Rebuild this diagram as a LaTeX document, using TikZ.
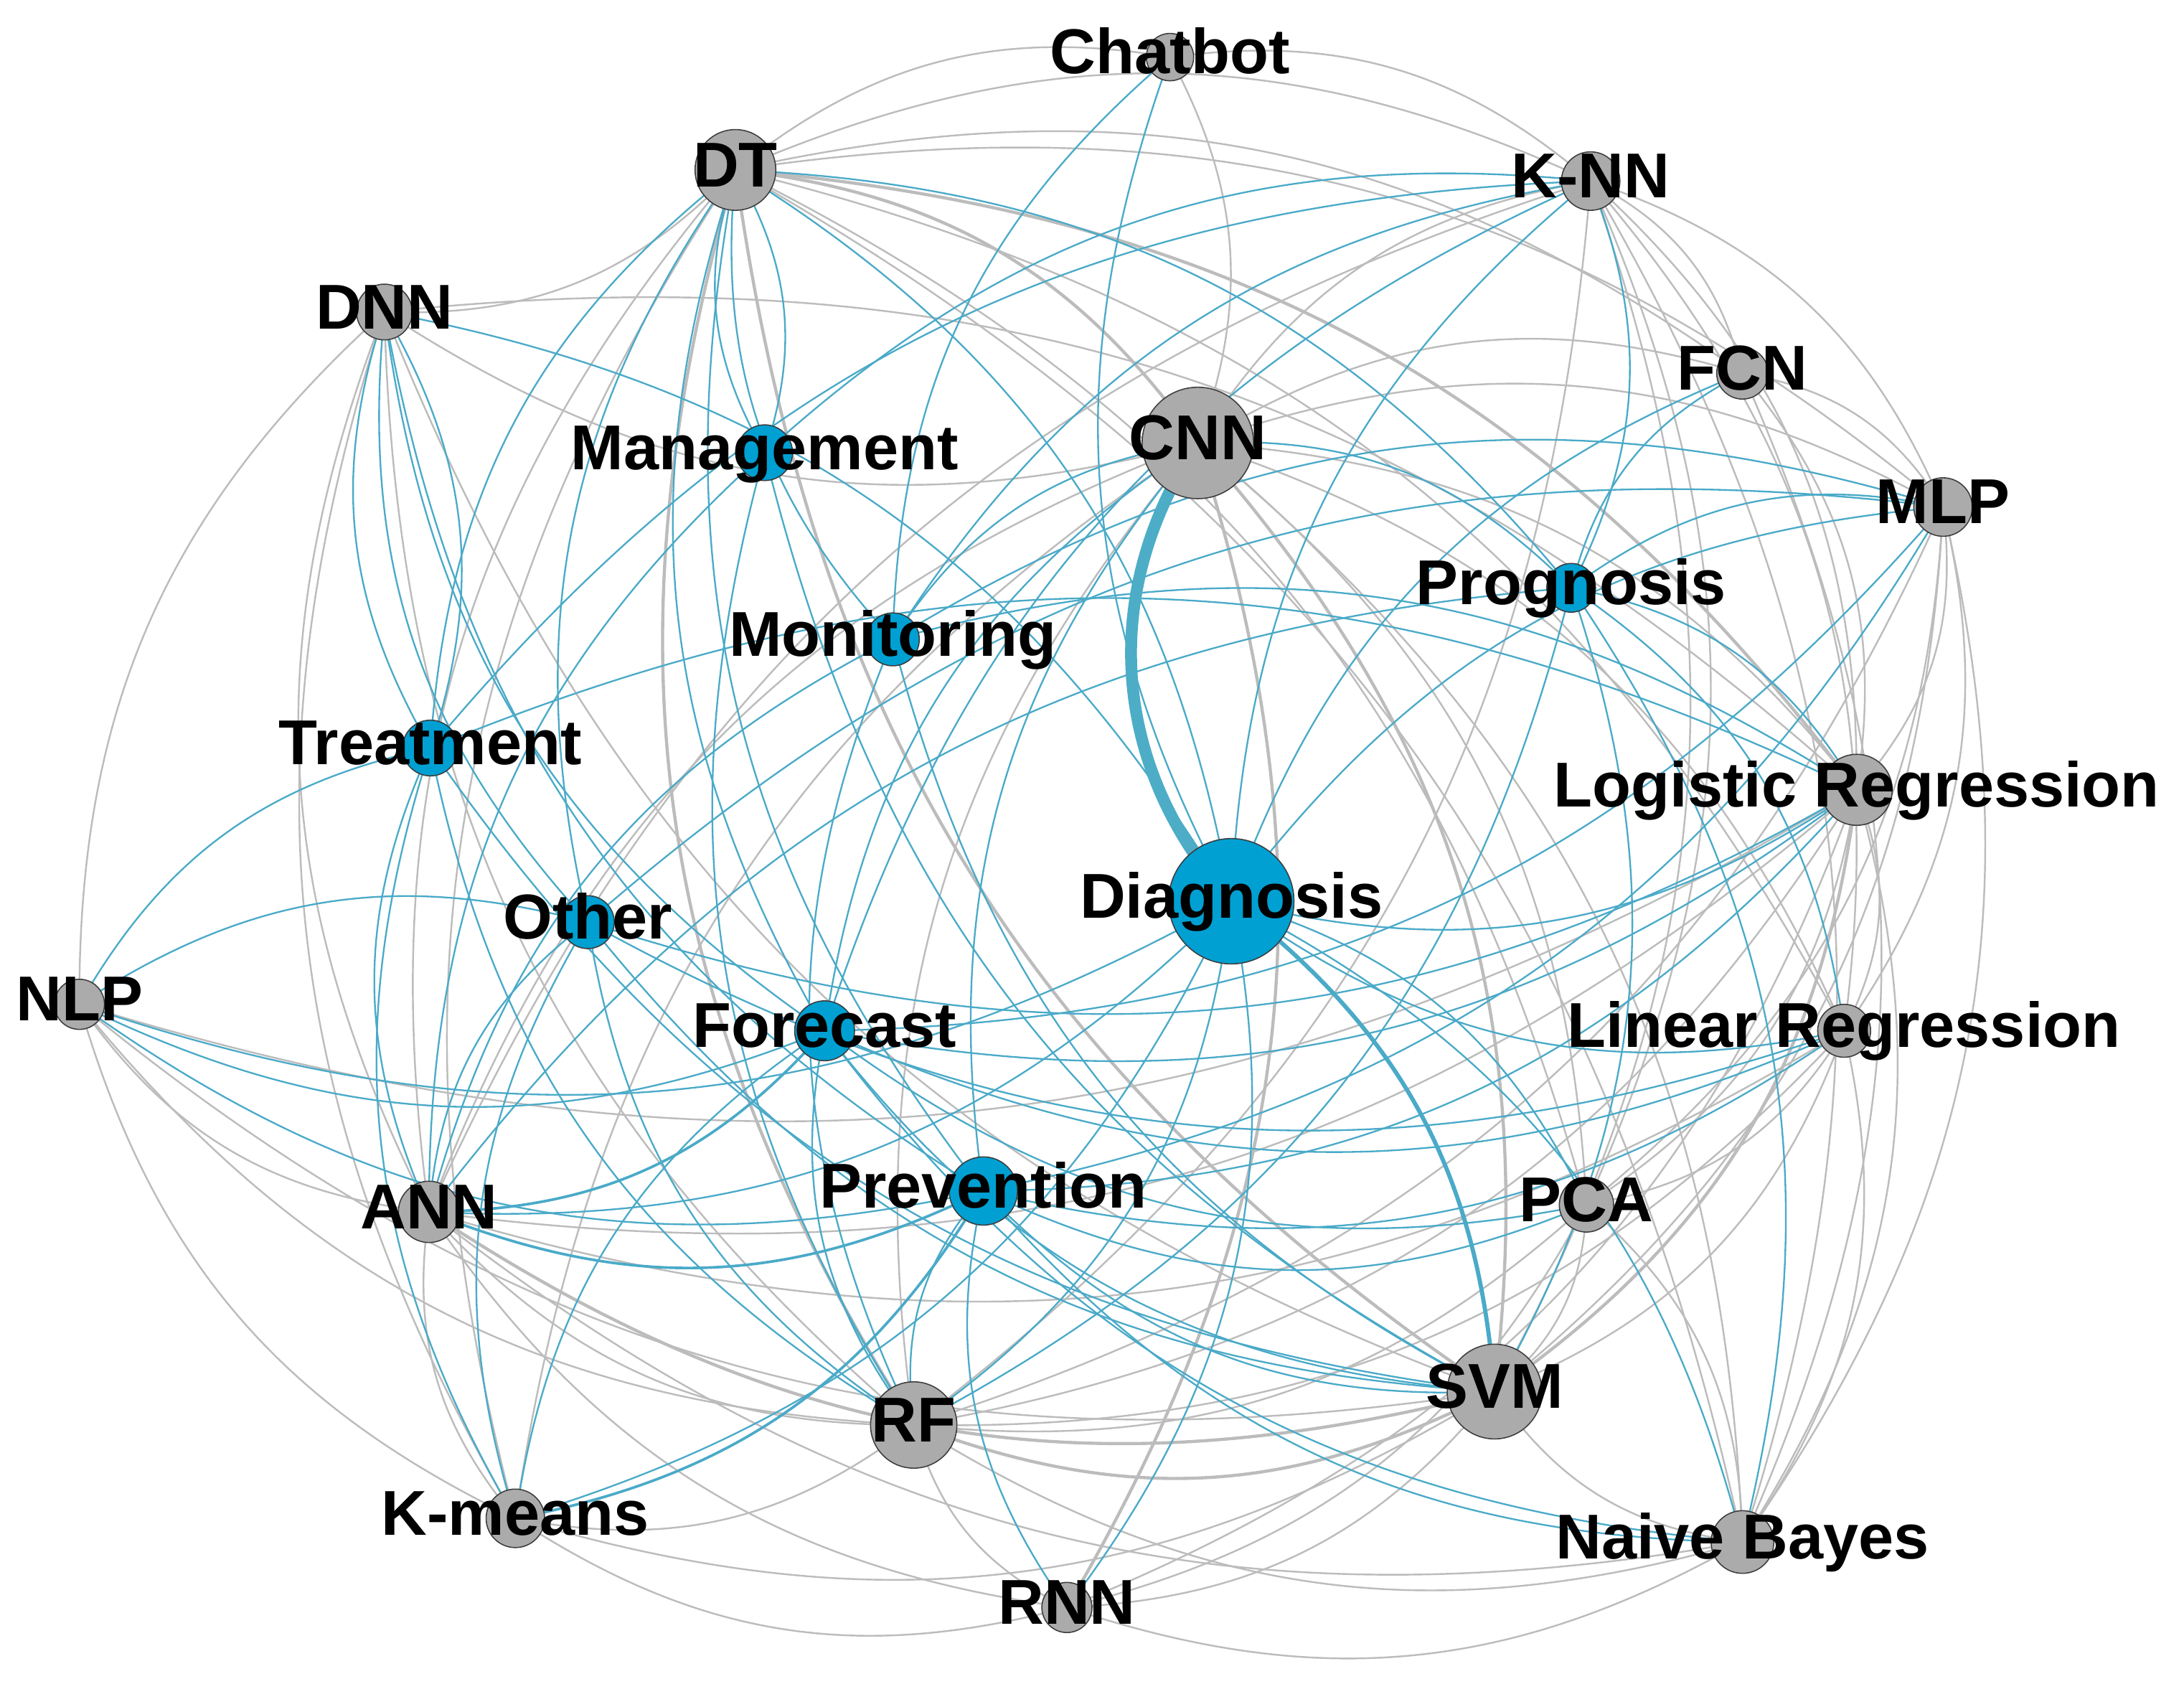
\documentclass[tikz,border=0pt]{standalone}
\usepackage{fontspec}
\setmainfont{Liberation Sans}
\usetikzlibrary{calc}
\pgfdeclarelayer{edges}
\pgfsetlayers{edges,main}
\definecolor{ngray}{RGB}{171,171,171}
\definecolor{nblue}{RGB}{0,160,210}
\definecolor{egray}{RGB}{188,188,188}
\definecolor{eblue}{RGB}{74,170,200}
\definecolor{ethick}{RGB}{77,173,198}
\definecolor{nborder}{RGB}{60,60,60}
\tikzset{
 gn/.style={circle, draw=nborder, line width=0.32pt, fill=ngray, minimum size=#1, inner sep=0pt},
 bn/.style={circle, draw=nborder, line width=0.32pt, fill=nblue, minimum size=#1, inner sep=0pt},
 lab/.style={font=\fontsize{18.2}{20}\selectfont\bfseries, inner sep=0pt, anchor=base},
 ge/.style={draw=egray, line width=0.5pt},
 gm/.style={draw=egray, line width=0.9pt},
 be/.style={draw=eblue, line width=0.48pt},
 bm/.style={draw=eblue, line width=0.76pt},
 bthick/.style={draw=ethick, line width=3.4pt},
}
\def\gcx{312}\def\gcy{-248}\def\bang{24}
% edge bulging outward from the picture centre
\newcommand\edg[3][ge]{%
  \path let \p1=(#2.center), \p2=(#3.center) in
   \pgfextra{\pgfmathparse{((\y2-\y1)/100)*(((\x1+\x2)/2-\gcx)/100)-((\x2-\x1)/100)*(((\y1+\y2)/2-\gcy)/100)}%
   \global\let\edgesgn\pgfmathresult};
  \ifdim\edgesgn pt>0pt
    \draw[#1] (#2.center) to[bend right=\bang] (#3.center);
  \else
    \draw[#1] (#2.center) to[bend left=\bang] (#3.center);
  \fi}
% edge bulging to the right of travel from #2 to #3
\newcommand\edr[3][ge]{\draw[#1] (#2.center) to[bend right=\bang] (#3.center);}
\begin{document}
\begin{tikzpicture}[x=0.4pt,y=0.4pt]
\useasboundingbox (0,0) rectangle (1568,-1225);
% nodes
\node[gn=13.6pt] (chat) at (840,-41) {};
\node[gn=23.2pt] (dt) at (528,-122) {};
\node[gn=16.8pt] (knn) at (1142,-130) {};
\node[gn=16pt] (dnn) at (276,-224) {};
\node[gn=14.8pt] (fcn) at (1251,-268) {};
\node[gn=32pt] (cnn) at (860,-318) {};
\node[bn=16pt] (mgmt) at (549,-325) {};
\node[gn=16.8pt] (mlp) at (1395,-364) {};
\node[bn=14pt] (prog) at (1128,-422) {};
\node[bn=15.2pt] (moni) at (641,-459) {};
\node[bn=16pt] (treat) at (309,-537) {};
\node[gn=20.4pt] (logr) at (1333,-567) {};
\node[bn=36pt] (diag) at (884,-647) {};
\node[bn=15.2pt] (other) at (422,-662) {};
\node[gn=14.4pt] (nlp) at (57,-721) {};
\node[bn=17.2pt] (fore) at (592,-740) {};
\node[gn=15.2pt] (linr) at (1324,-740) {};
\node[gn=17.6pt] (ann) at (308,-870) {};
\node[bn=19.6pt] (prev) at (706,-855) {};
\node[gn=15.6pt] (pca) at (1139,-865) {};
\node[gn=27.2pt] (svm) at (1073,-999) {};
\node[gn=24.8pt] (rf) at (656,-1023) {};
\node[gn=16.8pt] (kmeans) at (370,-1090) {};
\node[gn=18pt] (nb) at (1251,-1107) {};
\node[gn=14.4pt] (rnn) at (766,-1154) {};
\begin{pgfonlayer}{edges}
% grey edges between methods
\edr{chat}{dt} \edg{chat}{cnn} \edg{chat}{knn}
\edr{dnn}{dt} \edg{dt}{knn} \edg{dt}{fcn} \edg[gm]{dt}{cnn} \edg{dt}{mlp}
\edg[gm]{dt}{logr} \edr[gm]{dt}{svm} \edg[gm]{dt}{rf} \edg{dt}{ann}
\edg{dt}{kmeans} \edg{dt}{nb} \edg{dt}{pca} \edg{dt}{linr}
\edg{dnn}{nlp} \edg{dnn}{ann} \edg{dnn}{kmeans} \edg{dnn}{rf} \edr{dnn}{cnn}
\edg{dnn}{svm} \edg{dnn}{logr}
\edg{knn}{mlp} \edg{knn}{fcn} \edg{knn}{svm} \edg{knn}{rf} \edg{knn}{logr}
\edg{knn}{nb} \edg{knn}{linr} \edg{knn}{pca} \edg{knn}{ann} \edg{knn}{cnn}
\edg{fcn}{cnn} \edg{fcn}{mlp} \edg{fcn}{nb} \edg{fcn}{logr}
\edg{cnn}{mlp} \edg[gm]{cnn}{svm} \edg{cnn}{rf} \edg{cnn}{ann} \edg{cnn}{logr}
\edg[gm]{cnn}{rnn} \edg{cnn}{pca} \edg{cnn}{nb} \edg{cnn}{linr} \edg{cnn}{kmeans}
\edg{mlp}{logr} \edg{mlp}{linr} \edg{mlp}{nb} \edg{mlp}{pca} \edg{mlp}{svm} \edg{mlp}{rf}
\edg{logr}{linr} \edg{logr}{nb} \edg{logr}{pca} \edg[gm]{logr}{svm} \edg{logr}{rf}
\edg{logr}{ann} \edg{logr}{nlp}
\edg{linr}{nb} \edg{linr}{pca} \edg{linr}{svm} \edg{linr}{rf} \edg{linr}{ann}
\edg{pca}{svm} \edg{pca}{nb} \edg{pca}{rf}
\edg[gm]{svm}{rf} \edg[gm]{svm}{ann} \edg{svm}{kmeans} \edg{svm}{rnn} \edg{svm}{nb} \edg{svm}{nlp}
\edg{rf}{ann} \edg{rf}{kmeans} \edg{rf}{rnn} \edg{rf}{nb} \edg{rf}{nlp}
\edg{ann}{nlp} \edg{ann}{kmeans} \edg{ann}{nb} \edg{ann}{rnn}
\edg{nlp}{kmeans} \edg{kmeans}{rnn} \edg{rnn}{nb} \edg{rnn}{pca} \edg{rnn}{logr}
% blue edges: applications
\edg[be]{dt}{diag} \edr[be]{knn}{diag} \edr[be]{fcn}{diag} \edr[be]{mlp}{diag}
\edg[be]{logr}{diag} \edg[be]{linr}{diag} \edg[be]{diag}{rf} \edg[be]{ann}{diag}
\edg[be]{nlp}{diag} \edg[be]{diag}{nb} \edg[be]{diag}{pca} \edr[be]{rnn}{diag}
\edg[be]{kmeans}{diag} \edg[be]{dnn}{diag} \edr[be]{chat}{diag}
\edr[be]{fcn}{prog} \edg[be]{mlp}{prog} \edg[be]{prog}{svm} \edg[be]{prog}{rf}
\edg[be]{ann}{prog} \edg[be]{dt}{prog} \edg[be]{prog}{logr} \edg[be]{prog}{linr}
\edg[be]{prog}{nb} \edg[be]{cnn}{prog} \edg[be]{knn}{prog}
\edg[be]{dt}{moni} \edg[be]{chat}{moni} \edg[be]{knn}{moni} \edg[be]{moni}{svm}
\edg[be]{moni}{rf} \edg[be]{moni}{ann} \edg[be]{moni}{logr} \edg[be]{mlp}{moni}
\edg[be]{moni}{cnn}
\edg[be]{dt}{mgmt} \edr[be]{mgmt}{dt} \edg[be]{knn}{mgmt}
\edg[be]{mgmt}{rf} \edg[be]{mgmt}{ann} \edg[be]{mgmt}{svm}
\edg[be]{dnn}{treat} \edr[be]{treat}{dnn} \edg[be]{dt}{treat} \edr[be]{treat}{nlp}
\edg[be]{knn}{treat} \edg[be]{treat}{rf} \edg[be]{treat}{svm} \edg[be]{treat}{kmeans}
\edg[be]{treat}{logr} \edg[be]{treat}{ann}
\edg[be]{dt}{other} \edg[be]{dnn}{other} \edg[be]{nlp}{other} \edg[be]{other}{ann}
\edg[be]{other}{rf} \edg[be]{other}{svm} \edg[be]{other}{kmeans} \edg[be]{other}{logr}
\edg[be]{other}{linr} \edg[be]{other}{mlp}
\edg[be]{dt}{fore} \edg[be]{dnn}{fore} \edg[be]{nlp}{fore} \edg[bm]{ann}{fore}
\edg[be]{fore}{rf} \edg[be]{fore}{svm} \edg[be]{fore}{logr} \edg[be]{fore}{linr}
\edg[be]{fore}{mlp} \edg[be]{cnn}{fore} \edg[be]{kmeans}{fore} \edg[be]{fore}{nb}
\edg[be]{fore}{pca} \edg[be]{knn}{fore}
\edg[be]{dt}{prev} \edg[be]{dnn}{prev} \edg[be]{nlp}{prev} \edg[bm]{ann}{prev}
\edg[be]{prev}{rf} \edg[be]{prev}{svm} \edg[be]{prev}{logr} \edg[be]{prev}{linr}
\edg[be]{prev}{mlp} \edg[be]{cnn}{prev} \edg[bm]{kmeans}{prev} \edg[be]{prev}{nb}
\edg[be]{prev}{rnn} \edg[be]{prev}{pca}
\edr[be,line width=1.2pt]{svm}{diag}
\draw[bthick] (cnn.center) to[bend right=38] (diag.center);
\end{pgfonlayer}
% labels
\node[lab] (chatL) at (840,-53) {Chatbot};
\node[lab] (dtL) at (528,-134) {DT};
\node[lab] (knnL) at (1142,-142) {K-NN};
\node[lab] (dnnL) at (276,-236) {DNN};
\node[lab] (fcnL) at (1251,-280) {FCN};
\node[lab] (cnnL) at (860,-330) {CNN};
\node[lab] (mgmtL) at (549,-337) {Management};
\node[lab] (mlpL) at (1395,-376) {MLP};
\node[lab] (progL) at (1128,-434) {Prognosis};
\node[lab] (moniL) at (641,-471) {Monitoring};
\node[lab] (treatL) at (309,-549) {Treatment};
\node[lab] (logrL) at (1333,-579) {Logistic Regression};
\node[lab] (diagL) at (884,-659) {Diagnosis};
\node[lab] (otherL) at (422,-674) {Other};
\node[lab] (nlpL) at (57,-733) {NLP};
\node[lab] (foreL) at (592,-752) {Forecast};
\node[lab] (linrL) at (1324,-752) {Linear Regression};
\node[lab] (annL) at (308,-882) {ANN};
\node[lab] (prevL) at (706,-867) {Prevention};
\node[lab] (pcaL) at (1139,-877) {PCA};
\node[lab] (svmL) at (1073,-1011) {SVM};
\node[lab] (rfL) at (656,-1035) {RF};
\node[lab] (kmeansL) at (370,-1102) {K-means};
\node[lab] (nbL) at (1251,-1119) {Naive Bayes};
\node[lab] (rnnL) at (766,-1166) {RNN};
\end{tikzpicture}
\end{document}
